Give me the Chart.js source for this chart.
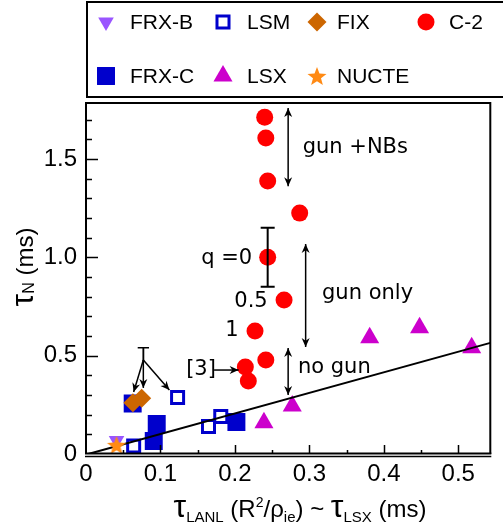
<!DOCTYPE html>
<html><head><meta charset="utf-8">
<script src="https://cdn.jsdelivr.net/npm/chart.js@4.4.0/dist/chart.umd.min.js"></script>
<style>html,body{margin:0;padding:0;background:#fff;overflow:hidden}#wrap{position:relative;width:503px;height:529px}</style>
</head><body><div id="wrap"><canvas id="c" width="503" height="529"></canvas></div>
<script>
// ---------------- data ----------------
const frxbX = [0.041];
const frxbY = [0.069];
const lsmX = [0.064, 0.123, 0.1645, 0.181];
const lsmY = [0.041, 0.287, 0.140, 0.191];
const fixX = [0.063, 0.0748];
const fixY = [0.261, 0.283];
const c2X = [0.240, 0.2415, 0.244, 0.287, 0.244, 0.266, 0.227, 0.2415, 0.214, 0.218];
const c2Y = [1.713, 1.607, 1.388, 1.225, 1.000, 0.783, 0.625, 0.478, 0.442, 0.371];
const c2Err = [0, 0, 0, 0, 0.15, 0, 0, 0, 0, 0];
const frxcX = [0.0627, 0.095, 0.091, 0.202];
const frxcY = [0.257, 0.153, 0.066, 0.163];
const lsxX = [0.239, 0.277, 0.381, 0.448, 0.518];
const lsxY = [0.159, 0.244, 0.591, 0.642, 0.540];
const nucteX = [0.041];
const nucteY = [0.046];
const fitX = [0.003, 0.543];
const fitY = [0.0, 0.565];
const xTicks = [0, 0.1, 0.2, 0.3, 0.4, 0.5];
const xTickLabels = ['0', '0.1', '0.2', '0.3', '0.4', '0.5'];
const yTicks = [0, 0.5, 1.0, 1.5];
const yTickLabels = ['0', '0.5', '1.0', '1.5'];
const seriesNames = ['FRX-B', 'LSM', 'FIX', 'C-2', 'FRX-C', 'LSX', 'NUCTE'];

const pts = (xs, ys) => xs.map((x, i) => ({x: x, y: ys[i]}));

// star image for NUCTE
function makeStar(color, R, r) {
  const s = Math.ceil(R * 2 + 2);
  const cv = document.createElement('canvas');
  cv.width = s; cv.height = s;
  const g = cv.getContext('2d');
  g.translate(s / 2, s / 2 + 1);
  g.beginPath();
  for (let i = 0; i < 10; i++) {
    const rr = i % 2 === 0 ? R : r;
    const a = -Math.PI / 2 + i * Math.PI / 5;
    g.lineTo(rr * Math.cos(a), rr * Math.sin(a));
  }
  g.closePath();
  g.fillStyle = color; g.fill();
  return cv;
}
const starImg = makeStar('#ff8a14', 10, 4.2);

const TXT = "'Liberation Sans', Arial, sans-serif";
const ANN = "'DejaVu Sans', sans-serif";

const datasets = [
  {label: seriesNames[6], data: pts(nucteX, nucteY), pointStyle: starImg, pointRadius: 10, backgroundColor: '#ff8a14', borderColor: '#ff8a14', borderWidth: 0},
  {label: seriesNames[2], data: pts(fixX, fixY), pointStyle: 'rectRot', pointRadius: 9.5, backgroundColor: '#cc6600', borderColor: '#cc6600', borderWidth: 0},
  {label: seriesNames[0], data: pts(frxbX, frxbY), pointStyle: 'triangle', rotation: 180, pointRadius: 9, backgroundColor: '#9955ff', borderColor: '#9955ff', borderWidth: 0},
  {label: 'fit', type: 'line', data: pts(fitX, fitY), borderColor: '#000', borderWidth: 2, pointRadius: 0, fill: false, showLine: true},
  {label: seriesNames[3], data: pts(c2X, c2Y), pointStyle: 'circle', pointRadius: 8.5, backgroundColor: '#ff0000', borderColor: '#ff0000', borderWidth: 0},
  {label: seriesNames[5], data: pts(lsxX, lsxY), pointStyle: 'triangle', pointRadius: 11, backgroundColor: '#cc00cc', borderColor: '#cc00cc', borderWidth: 0},
  {label: seriesNames[1], data: pts(lsmX, lsmY), pointStyle: 'rect', pointRadius: 8.5, backgroundColor: '#ffffff', borderColor: '#0000cc', borderWidth: 3},
  {label: seriesNames[4], data: pts(frxcX, frxcY), pointStyle: 'rect', pointRadius: 12.7, backgroundColor: '#0000cc', borderColor: '#0000cc', borderWidth: 0}
];

// annotations (positions in data units)
const annTexts = [
  {t: 'gun +NBs', x: 0.291, y: 1.556, a: 'left'},
  {t: 'gun only', x: 0.317, y: 0.818, a: 'left'},
  {t: 'no gun', x: 0.2846, y: 0.442, a: 'left'},
  {t: 'q =0', x: 0.2232, y: 0.996, a: 'right'},
  {t: '0.5', x: 0.244, y: 0.775, a: 'right'},
  {t: '1', x: 0.205, y: 0.630, a: 'right'},
  {t: '[3]', x: 0.1345, y: 0.427, a: 'left'}
];
const annArrows = [
  {x1: 0.2715, y1: 1.759, x2: 0.2715, y2: 1.362, both: true},
  {x1: 0.295, y1: 1.068, x2: 0.295, y2: 0.544, both: true},
  {x1: 0.2715, y1: 0.539, x2: 0.2715, y2: 0.300, both: true},
  {x1: 0.172, y1: 0.427, x2: 0.205, y2: 0.427, both: false},
  {x1: 0.077, y1: 0.478, x2: 0.064, y2: 0.315, both: false},
  {x1: 0.077, y1: 0.478, x2: 0.077, y2: 0.336, both: false},
  {x1: 0.077, y1: 0.478, x2: 0.112, y2: 0.325, both: false}
];

function drawMarker(ctx, ds, x, y) {
  ctx.save();
  ctx.fillStyle = ds.backgroundColor;
  ctx.strokeStyle = ds.borderColor;
  ctx.lineWidth = ds.borderWidth || 0;
  Chart.helpers.drawPoint(ctx, {pointStyle: ds.pointStyle, rotation: ds.rotation || 0, radius: ds.pointRadius, borderWidth: ds.borderWidth || 0}, x, y);
  ctx.restore();
}

function arrowHead(ctx, x, y, ang) {
  const L = 9, W = 4;
  ctx.beginPath();
  ctx.moveTo(x, y);
  ctx.lineTo(x - L * Math.cos(ang) + W * Math.sin(ang), y - L * Math.sin(ang) - W * Math.cos(ang));
  ctx.lineTo(x - L * Math.cos(ang) * 0.7, y - L * Math.sin(ang) * 0.7);
  ctx.lineTo(x - L * Math.cos(ang) - W * Math.sin(ang), y - L * Math.sin(ang) + W * Math.cos(ang));
  ctx.closePath();
  ctx.fill();
}

function drawPieces(ctx, pieces, x0, y0, align) {
  let total = 0;
  pieces.forEach(p => { ctx.font = p.f; p.w = ctx.measureText(p.t).width; total += p.w; });
  let x = align === 'center' ? x0 - total / 2 : x0;
  ctx.textAlign = 'left'; ctx.textBaseline = 'alphabetic';
  pieces.forEach(p => { ctx.font = p.f; ctx.fillText(p.t, x, y0 + (p.dy || 0)); x += p.w; });
}

const decor = {
  id: 'decor',
  afterDraw(chart) {
    const ctx = chart.ctx, xs = chart.scales.x, ys = chart.scales.y, ca = chart.chartArea;
    const X = v => xs.getPixelForValue(v), Y = v => ys.getPixelForValue(v);
    ctx.save();
    ctx.strokeStyle = '#000'; ctx.fillStyle = '#000';
    // frame
    ctx.lineWidth = 2;
    ctx.beginPath();
    ctx.moveTo(ca.left, ca.bottom); ctx.lineTo(ca.left, ca.top); ctx.lineTo(ca.right, ca.top); ctx.lineTo(ca.right, ca.bottom);
    ctx.stroke();
    ctx.beginPath(); ctx.moveTo(ca.left - 1, ca.bottom - 0.5); ctx.lineTo(ca.right + 1, ca.bottom - 0.5); ctx.stroke();
    ctx.lineWidth = 1.5;
    ctx.beginPath(); ctx.moveTo(ca.left - 1, ca.bottom + 2.5); ctx.lineTo(ca.right + 1, ca.bottom + 2.5); ctx.stroke();
    // inner ticks
    ctx.lineWidth = 1.5;
    ctx.beginPath();
    for (let k = 1; k <= 10; k++) {
      const v = k * 0.05; if (v > xs.max) break;
      const major = k % 2 === 0, px = Math.round(X(v)) + 0.5;
      ctx.moveTo(px, ca.bottom); ctx.lineTo(px, ca.bottom - (major ? 9 : 4));
    }
    for (let k = 1; k <= 17; k++) {
      const v = k * 0.1; if (v > ys.max) break;
      const major = k % 5 === 0, py = Math.round(Y(v)) + 0.5;
      ctx.moveTo(ca.left, py); ctx.lineTo(ca.left + (major ? 12 : 6), py);
    }
    ctx.stroke();

    // error bars
    ctx.lineWidth = 2;
    c2Err.forEach((e, i) => {
      if (!e) return;
      const px = X(c2X[i]), y1 = Y(c2Y[i] + e), y2 = Y(c2Y[i] - e);
      ctx.beginPath();
      ctx.moveTo(px, y1); ctx.lineTo(px, y2);
      ctx.moveTo(px - 7, y1); ctx.lineTo(px + 7, y1);
      ctx.moveTo(px - 7, y2); ctx.lineTo(px + 7, y2);
      ctx.stroke();
    });

    // annotations
    ctx.lineWidth = 1.5;
    annArrows.forEach(a => {
      const x1 = X(a.x1), y1 = Y(a.y1), x2 = X(a.x2), y2 = Y(a.y2);
      ctx.beginPath(); ctx.moveTo(x1, y1); ctx.lineTo(x2, y2); ctx.stroke();
      const ang = Math.atan2(y2 - y1, x2 - x1);
      arrowHead(ctx, x2, y2, ang);
      if (a.both) arrowHead(ctx, x1, y1, ang + Math.PI);
    });
    ctx.font = '21px ' + ANN; ctx.textBaseline = 'middle';
    annTexts.forEach(a => { ctx.textAlign = a.a; ctx.fillText(a.t, X(a.x), Y(a.y)); });
    ctx.font = '20px ' + TXT; ctx.textAlign = 'center'; ctx.textBaseline = 'alphabetic';
    ctx.fillText('T', X(0.077), Y(0.478) + 1);

    // axis titles
    const big = '32px ' + TXT, main = '24px ' + TXT, sub = '15px ' + TXT;
    drawPieces(ctx, [
      {t: 'τ', f: big}, {t: 'LANL', f: sub, dy: 5}, {t: ' (R', f: main}, {t: '2', f: '14px ' + TXT, dy: -10},
      {t: '/ρ', f: main}, {t: 'ie', f: sub, dy: 5}, {t: ') ~ ', f: main}, {t: 'τ', f: big},
      {t: 'LSX', f: sub, dy: 5}, {t: ' (ms)', f: main}
    ], 300, 517, 'center');
    ctx.save();
    ctx.translate(33, 267); ctx.rotate(-Math.PI / 2);
    drawPieces(ctx, [{t: 'τ', f: big}, {t: 'N', f: '16px ' + TXT, dy: 1}, {t: ' (ms)', f: main}], 0, 0, 'center');
    ctx.restore();

    // legend
    ctx.lineWidth = 2;
    ctx.strokeRect(87, 2, 420, 95);
    const colM = [106, 223, 317, 426], colT = [130, 247, 337, 449], rowY = [22, 76];
    const order = [['FRX-B', 'LSM', 'FIX', 'C-2'], ['FRX-C', 'LSX', 'NUCTE']];
    ctx.font = '21px ' + TXT; ctx.textAlign = 'left'; ctx.textBaseline = 'middle'; ctx.fillStyle = '#000';
    order.forEach((row, r) => row.forEach((name, c) => {
      const ds = datasets.find(d => d.label === name);
      drawMarker(ctx, ds, colM[c], rowY[r]);
      ctx.fillStyle = '#000';
      ctx.fillText(name, colT[c], rowY[r] + 1);
    }));
    ctx.restore();
  }
};

new Chart(document.getElementById('c'), {
  type: 'scatter',
  data: {datasets: datasets},
  options: {
    responsive: false, animation: false, devicePixelRatio: 1,
    layout: {padding: {top: 103, right: 1, left: 0, bottom: 0}},
    plugins: {legend: {display: false}, tooltip: {enabled: false}},
    scales: {
      x: {
        type: 'linear', min: 0, max: 0.543,
        grid: {display: false, drawTicks: false}, border: {display: false},
        afterBuildTicks: s => { s.ticks = xTicks.map(v => ({value: v})); },
        afterFit: s => { s.height = 75; },
        ticks: {autoSkip: false, maxRotation: 0, padding: 6, color: '#000', font: {family: TXT, size: 24},
          callback: v => xTickLabels[xTicks.indexOf(v)]}
      },
      y: {
        type: 'linear', min: 0, max: 1.785,
        grid: {display: false, drawTicks: false}, border: {display: false},
        afterBuildTicks: s => { s.ticks = yTicks.map(v => ({value: v})); },
        afterFit: s => { s.width = 86; },
        ticks: {autoSkip: false, padding: 9, color: '#000', font: {family: TXT, size: 24},
          callback: v => yTickLabels[yTicks.indexOf(v)]}
      }
    }
  },
  plugins: [decor]
});
</script></body></html>
